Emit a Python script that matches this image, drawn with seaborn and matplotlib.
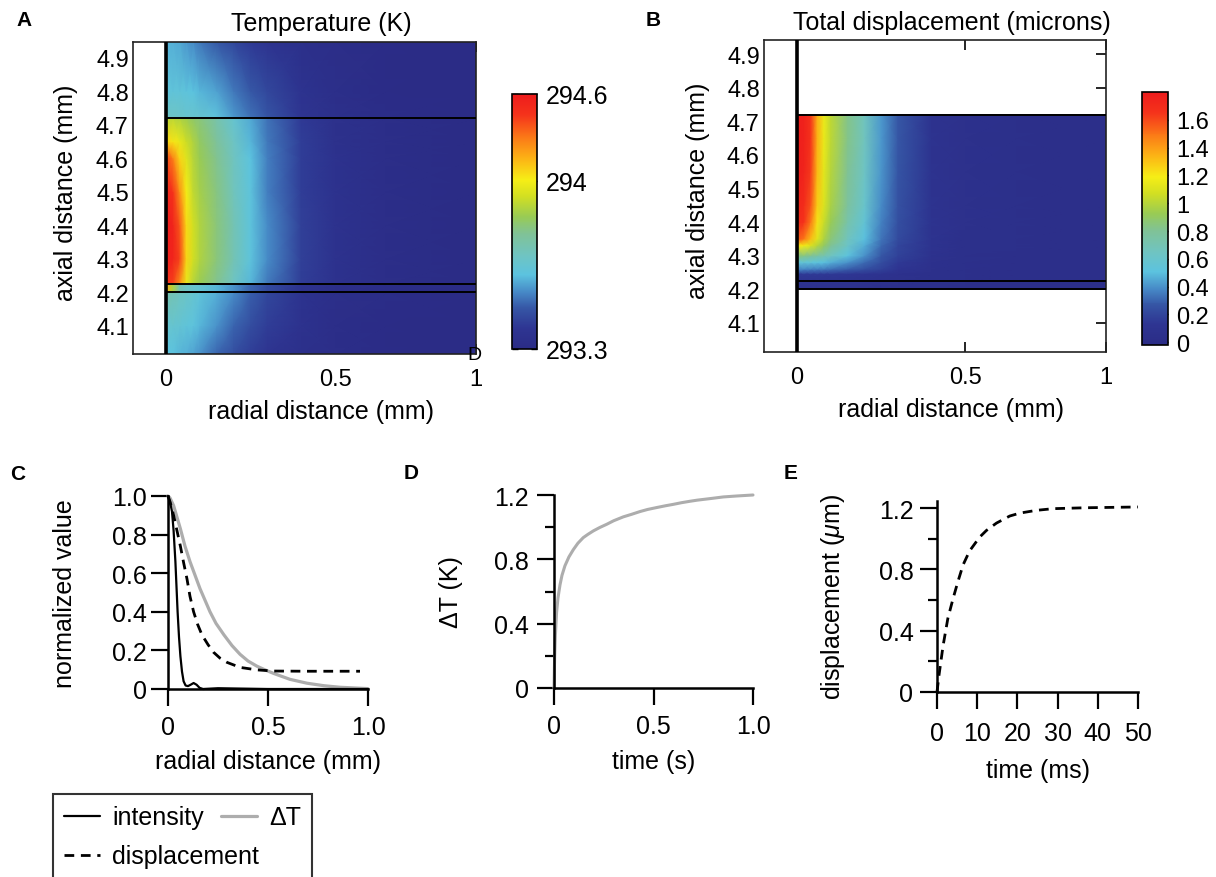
import numpy as np
import matplotlib
matplotlib.use("Agg")
import matplotlib.pyplot as plt
from matplotlib.colors import LinearSegmentedColormap
from matplotlib.lines import Line2D
import seaborn as sns

sns.set_style("ticks")
plt.rcParams['font.family'] = ['Liberation Sans', 'DejaVu Sans']
plt.rcParams['mathtext.fontset'] = 'custom'
plt.rcParams['mathtext.rm'] = 'Liberation Sans'
plt.rcParams['mathtext.it'] = 'Liberation Sans:italic'
for key in ['text.color', 'axes.labelcolor', 'xtick.color', 'ytick.color', 'axes.edgecolor']:
    plt.rcParams[key] = 'black'

# ---------------- data ----------------
# Panel A: temperature field (K), rows = axial position (mm), columns = radial position (mm)
temp_r = [0, 0.02, 0.04, 0.06, 0.08, 0.1, 0.15, 0.2, 0.25, 0.3, 0.4, 0.5, 0.65, 0.917]
temp_z = [4.015, 4.1, 4.198, 4.2, 4.223, 4.225, 4.3, 4.4, 4.5, 4.6, 4.65, 4.72, 4.722, 4.8, 4.947]
temp_K = [
    [293.68, 293.68, 293.66, 293.65, 293.63, 293.60, 293.53, 293.48, 293.43, 293.39, 293.35, 293.33, 293.31, 293.30],
    [293.73, 293.73, 293.72, 293.70, 293.69, 293.66, 293.60, 293.53, 293.48, 293.43, 293.37, 293.33, 293.31, 293.30],
    [293.82, 293.81, 293.78, 293.76, 293.73, 293.70, 293.65, 293.59, 293.52, 293.46, 293.38, 293.34, 293.32, 293.30],
    [294.28, 294.02, 293.82, 293.77, 293.74, 293.72, 293.66, 293.60, 293.53, 293.47, 293.38, 293.34, 293.32, 293.30],
    [294.28, 294.02, 293.82, 293.77, 293.74, 293.72, 293.66, 293.60, 293.53, 293.47, 293.38, 293.34, 293.32, 293.30],
    [294.50, 294.47, 294.34, 294.13, 294.03, 293.98, 293.89, 293.77, 293.66, 293.56, 293.43, 293.37, 293.33, 293.30],
    [294.57, 294.56, 294.47, 294.21, 294.08, 294.02, 293.92, 293.81, 293.69, 293.59, 293.44, 293.37, 293.33, 293.30],
    [294.59, 294.56, 294.44, 294.20, 294.08, 294.02, 293.92, 293.81, 293.69, 293.59, 293.44, 293.37, 293.33, 293.30],
    [294.55, 294.50, 294.34, 294.16, 294.05, 294.00, 293.91, 293.79, 293.69, 293.57, 293.43, 293.37, 293.33, 293.30],
    [294.47, 294.37, 294.21, 294.11, 294.03, 293.98, 293.89, 293.78, 293.68, 293.57, 293.43, 293.37, 293.33, 293.30],
    [294.21, 294.18, 294.13, 294.07, 294.02, 293.96, 293.87, 293.77, 293.66, 293.56, 293.43, 293.36, 293.33, 293.30],
    [294.05, 294.04, 294.02, 293.99, 293.95, 293.92, 293.83, 293.73, 293.64, 293.55, 293.42, 293.36, 293.33, 293.30],
    [293.77, 293.77, 293.76, 293.74, 293.74, 293.73, 293.69, 293.61, 293.55, 293.50, 293.40, 293.35, 293.32, 293.30],
    [293.70, 293.70, 293.70, 293.69, 293.68, 293.66, 293.63, 293.56, 293.51, 293.46, 293.38, 293.34, 293.31, 293.30],
    [293.66, 293.65, 293.64, 293.61, 293.59, 293.56, 293.51, 293.46, 293.42, 293.39, 293.35, 293.33, 293.31, 293.30],
]
temp_cbar_ticks = [293.3, 294.157, 294.6]
temp_cbar_labels = ['293.3', '294', '294.6']

# Panel B: total displacement field (microns)
disp_r = [0, 0.02, 0.04, 0.06, 0.08, 0.1, 0.15, 0.2, 0.25, 0.3, 0.4, 0.5, 0.65, 0.917]
disp_z = [4.2, 4.225, 4.245, 4.26, 4.28, 4.3, 4.33, 4.35, 4.4, 4.45, 4.55, 4.65, 4.72]
disp_um = [
    [0.08, 0.08, 0.08, 0.08, 0.08, 0.08, 0.07, 0.06, 0.05, 0.045, 0.04, 0.035, 0.03, 0.03],
    [0.10, 0.10, 0.10, 0.10, 0.10, 0.10, 0.09, 0.08, 0.07, 0.06, 0.045, 0.04, 0.03, 0.03],
    [0.15, 0.15, 0.15, 0.15, 0.14, 0.14, 0.13, 0.11, 0.09, 0.07, 0.05, 0.04, 0.03, 0.03],
    [0.38, 0.38, 0.37, 0.36, 0.35, 0.33, 0.29, 0.24, 0.18, 0.12, 0.06, 0.04, 0.03, 0.03],
    [0.55, 0.55, 0.54, 0.52, 0.50, 0.47, 0.40, 0.32, 0.23, 0.15, 0.07, 0.045, 0.035, 0.03],
    [0.85, 0.84, 0.80, 0.76, 0.71, 0.65, 0.52, 0.40, 0.27, 0.18, 0.08, 0.05, 0.035, 0.03],
    [1.22, 1.18, 1.10, 1.00, 0.90, 0.80, 0.62, 0.46, 0.31, 0.20, 0.09, 0.05, 0.04, 0.03],
    [1.58, 1.50, 1.32, 1.12, 0.98, 0.86, 0.66, 0.50, 0.34, 0.22, 0.09, 0.05, 0.04, 0.03],
    [1.70, 1.66, 1.50, 1.22, 1.05, 0.93, 0.73, 0.56, 0.37, 0.24, 0.10, 0.06, 0.04, 0.03],
    [1.74, 1.70, 1.58, 1.28, 1.10, 0.97, 0.77, 0.60, 0.39, 0.25, 0.10, 0.06, 0.04, 0.03],
    [1.78, 1.75, 1.64, 1.33, 1.13, 1.00, 0.80, 0.64, 0.41, 0.26, 0.10, 0.06, 0.04, 0.03],
    [1.78, 1.76, 1.66, 1.35, 1.15, 1.02, 0.82, 0.66, 0.42, 0.27, 0.10, 0.06, 0.04, 0.03],
    [1.78, 1.76, 1.66, 1.35, 1.15, 1.02, 0.82, 0.66, 0.42, 0.27, 0.10, 0.06, 0.04, 0.03],
]
disp_cbar_ticks = [0, 0.2, 0.4, 0.6, 0.8, 1.0, 1.2, 1.4, 1.6]
disp_cbar_labels = ['0', '0.2', '0.4', '0.6', '0.8', '1', '1.2', '1.4', '1.6']

layer_z = [4.2, 4.225, 4.72]
axial_ticks = [4.1, 4.2, 4.3, 4.4, 4.5, 4.6, 4.7, 4.8, 4.9]
axial_labels = ['4.1', '4.2', '4.3', '4.4', '4.5', '4.6', '4.7', '4.8', '4.9']
radial_ticks = [0, 0.5, 0.917]
radial_labels = ['0', '0.5', '1']

# Panel C: normalized radial profiles
int_r = [0, 0.01, 0.02, 0.028, 0.037, 0.048, 0.055, 0.062, 0.07, 0.078, 0.088, 0.1, 0.113, 0.128,
         0.143, 0.158, 0.175, 0.25, 0.5, 1.0]
int_v = [1.0, 0.97, 0.92, 0.82, 0.66, 0.40, 0.27, 0.17, 0.09, 0.04, 0.018, 0.015, 0.022, 0.031,
         0.022, 0.006, 0.0, 0.004, 0.0, 0.0]
dT_r = [0, 0.01, 0.028, 0.045, 0.062, 0.085, 0.11, 0.135, 0.16, 0.185, 0.21, 0.24, 0.28, 0.32,
        0.36, 0.4, 0.445, 0.49, 0.53, 0.61, 0.695, 0.78, 0.86, 1.0]
dT_v = [1.0, 0.99, 0.95, 0.89, 0.83, 0.74, 0.66, 0.59, 0.52, 0.46, 0.40, 0.34, 0.28, 0.225,
        0.18, 0.145, 0.118, 0.097, 0.08, 0.05, 0.03, 0.017, 0.009, 0.002]
dsp_r = [0, 0.01, 0.028, 0.045, 0.062, 0.078, 0.095, 0.11, 0.128, 0.148, 0.17, 0.2, 0.228, 0.26,
         0.295, 0.36, 0.445, 0.53, 0.7, 0.96]
dsp_v = [1.0, 0.97, 0.90, 0.82, 0.74, 0.655, 0.57, 0.48, 0.40, 0.335, 0.28, 0.23, 0.19, 0.16,
         0.138, 0.112, 0.099, 0.093, 0.092, 0.092]

# Panel D: temperature rise vs time
tD_s = [0, 0.003, 0.007, 0.013, 0.02, 0.03, 0.04, 0.055, 0.075, 0.097, 0.12, 0.147, 0.17, 0.198,
        0.23, 0.265, 0.3, 0.348, 0.39, 0.432, 0.47, 0.516, 0.56, 0.6, 0.64, 0.683, 0.72, 0.767,
        0.8, 0.851, 0.92, 1.0]
dT_K = [0, 0.18, 0.33, 0.47, 0.56, 0.64, 0.70, 0.76, 0.815, 0.86, 0.90, 0.935, 0.955, 0.977,
        0.998, 1.018, 1.04, 1.064, 1.08, 1.097, 1.11, 1.122, 1.133, 1.142, 1.152, 1.161, 1.168,
        1.175, 1.18, 1.188, 1.194, 1.2]

# Panel E: displacement vs time
tE_ms = [0, 0.5, 1.5, 2.7, 4.0, 5.2, 6.5, 8.1, 10.6, 12.3, 14.8, 18.1, 20.6, 24.7, 28.9, 37.1, 50]
disp_t = [0, 0.11, 0.30, 0.48, 0.61, 0.72, 0.83, 0.92, 1.01, 1.054, 1.102, 1.148, 1.167, 1.185,
          1.196, 1.202, 1.207]

# ---------------- style ----------------
cmap = LinearSegmentedColormap.from_list("softjet", [
    (0.00, "#2b2c86"), (0.08, "#2e3592"), (0.16, "#3657a6"), (0.22, "#4688c6"),
    (0.29, "#5cc3df"), (0.36, "#6ec4c4"), (0.45, "#80c296"), (0.52, "#98cb55"),
    (0.60, "#d2df22"), (0.665, "#f6ee16"), (0.75, "#fcb215"), (0.83, "#fb7a17"),
    (0.92, "#f5331b"), (1.00, "#ee1c1c")])

W, H = 1216, 878
fig = plt.figure(figsize=(W / 100, H / 100), dpi=100)


def rect(l, r, t, b):
    return [l / W, 1 - b / H, (r - l) / W, (b - t) / H]


def heat_axes(ax, ylim, ylab_x, title, title_y):
    ax.set_xlim(-0.098, 0.917)
    ax.set_ylim(*ylim)
    ax.set_xticks(radial_ticks)
    ax.set_xticklabels(radial_labels)
    ax.set_yticks(axial_ticks)
    ax.set_yticklabels(axial_labels)
    ax.tick_params(axis='both', direction='in', length=7, width=1.2, labelsize=17,
                   top=True, right=True, left=False)
    ax.tick_params(axis='x', pad=10)
    ax.tick_params(axis='y', pad=3)
    for s in ax.spines.values():
        s.set_linewidth(1.2)
        s.set_color('#222222')
    ax.set_xlabel('radial distance (mm)', fontsize=18)
    ax.set_ylabel('axial distance (mm)', fontsize=18)
    ax.xaxis.set_label_coords(0.548, -0.144)
    ax.yaxis.set_label_coords(ylab_x, 0.52)
    ax.text(0.548, title_y, title, transform=ax.transAxes, ha='center', va='bottom', fontsize=18)


# Panel A
axA = fig.add_axes(rect(133, 476, 43, 355))
meshA = axA.pcolormesh(temp_r, temp_z, np.array(temp_K), shading='gouraud', cmap=cmap,
                       vmin=293.3, vmax=294.6, rasterized=True)
axA.axvline(0, color='k', lw=2.6, zorder=5)
axA.hlines(layer_z, 0, 0.917, color='k', lw=1.4, zorder=5)
heat_axes(axA, (4.0155, 4.9466), -0.160, 'Temperature (K)', 1.022)
caxA = fig.add_axes(rect(512, 537, 95, 350))
cbA = fig.colorbar(meshA, cax=caxA, ticks=temp_cbar_ticks)
cbA.ax.set_yticklabels(temp_cbar_labels)
cbA.ax.tick_params(direction='in', length=4, width=1, left=True, right=True, labelsize=18, pad=6)
cbA.outline.set_linewidth(1.2)

# Panel B
axB = fig.add_axes(rect(764, 1106, 41, 353))
meshB = axB.pcolormesh(disp_r, disp_z, np.array(disp_um), shading='gouraud', cmap=cmap,
                       vmin=-0.02, vmax=1.80, rasterized=True)
axB.axvline(0, color='k', lw=2.6, zorder=5)
axB.hlines(layer_z, 0, 0.917, color='k', lw=1.4, zorder=5)
heat_axes(axB, (4.013, 4.942), -0.158, 'Total displacement (microns)', 1.019)
caxB = fig.add_axes(rect(1142, 1168, 93, 346))
cbB = fig.colorbar(meshB, cax=caxB, ticks=disp_cbar_ticks)
cbB.ax.set_yticklabels(disp_cbar_labels)
cbB.ax.tick_params(direction='in', length=4, width=1, left=True, right=True, labelsize=17, pad=6)
cbB.outline.set_linewidth(1.2)

# stray glyph visible near panel A's right tick in the reference
fig.text(474 / W, 1 - 356 / H, 'D', ha='center', va='center', fontsize=14)


def line_axes(ax):
    for side in ['top', 'right']:
        ax.spines[side].set_visible(False)
    for side in ['left', 'bottom']:
        ax.spines[side].set_linewidth(1.8)
        ax.spines[side].set_color('black')
    ax.tick_params(which='major', direction='out', length=12, width=1.6, labelsize=18, colors='black')
    ax.tick_params(which='minor', direction='out', length=6.5, width=1.6, colors='black')


GRAY = '#adadad'

# Panel C
axC = fig.add_axes(rect(168, 368, 497, 690))
sns.lineplot(x=dT_r, y=dT_v, ax=axC, color=GRAY, lw=2.3, clip_on=False)
sns.lineplot(x=int_r, y=int_v, ax=axC, color='black', lw=1.6, clip_on=False)
sns.lineplot(x=dsp_r, y=dsp_v, ax=axC, color='black', lw=2.0, clip_on=False)
axC.lines[-1].set_dashes([3.5, 2.4])
axC.set_xlim(0, 1.0)
axC.set_ylim(0, 1.0)
axC.set_xticks([0, 0.5, 1.0])
axC.set_xticklabels(['0', '0.5', '1.0'])
axC.set_yticks([0, 0.2, 0.4, 0.6, 0.8, 1.0])
axC.set_yticklabels(['0', '0.2', '0.4', '0.6', '0.8', '1.0'])
line_axes(axC)
axC.tick_params(axis='x', pad=7)
axC.tick_params(axis='y', pad=3)
axC.set_xlabel('radial distance (mm)', fontsize=18)
axC.set_ylabel('normalized value', fontsize=18)
axC.xaxis.set_label_coords(0.5, -0.311)
axC.yaxis.set_label_coords(-0.455, 0.5)

# Panel D
axD = fig.add_axes(rect(554, 753, 496, 689))
sns.lineplot(x=tD_s, y=dT_K, ax=axD, color=GRAY, lw=2.2, clip_on=False)
axD.set_xlim(0, 1.0)
axD.set_ylim(0, 1.2)
axD.set_xticks([0, 0.5, 1.0])
axD.set_xticklabels(['0', '0.5', '1.0'])
axD.set_yticks([0, 0.4, 0.8, 1.2])
axD.set_yticklabels(['0', '0.4', '0.8', '1.2'])
axD.set_yticks([0.2, 0.6, 1.0], minor=True)
line_axes(axD)
axD.tick_params(axis='x', pad=7)
axD.tick_params(axis='y', pad=6)
axD.set_xlabel('time (s)', fontsize=18)
axD.set_ylabel('ΔT (K)', fontsize=18)
axD.xaxis.set_label_coords(0.5, -0.316)
axD.yaxis.set_label_coords(-0.457, 0.5)

# Panel E
axE = fig.add_axes(rect(937, 1138, 502, 693))
sns.lineplot(x=tE_ms, y=disp_t, ax=axE, color='black', lw=2.0, clip_on=False)
axE.lines[-1].set_dashes([3.5, 2.4])
axE.set_xlim(0, 50)
axE.set_ylim(0, 1.246)
axE.set_xticks([0, 10, 20, 30, 40, 50])
axE.set_xticklabels(['0', '10', '20', '30', '40', '50'])
axE.set_yticks([0, 0.4, 0.8, 1.2])
axE.set_yticklabels(['0', '0.4', '0.8', '1.2'])
axE.set_yticks([0.2, 0.6, 1.0], minor=True)
line_axes(axE)
axE.tick_params(axis='x', pad=9)
axE.tick_params(axis='y', pad=5)
axE.set_xlabel('time (ms)', fontsize=18)
axE.set_ylabel(r'displacement ($\mu$m)', fontsize=18)
axE.xaxis.set_label_coords(0.5, -0.346)
axE.yaxis.set_label_coords(-0.448, 0.5)

# Legend (below panel C)
handles = [Line2D([], [], color='black', lw=1.6),
           Line2D([], [], color='black', lw=2.0, dashes=[3.5, 2.4]),
           Line2D([], [], color=GRAY, lw=2.3)]
labels = ['intensity', 'displacement', 'ΔT']
leg = fig.legend(handles, labels, loc='upper left', bbox_to_anchor=(53 / W, 1 - 795 / H),
                 ncol=2, fontsize=18, frameon=True, fancybox=False, borderaxespad=0,
                 handlelength=1.45, handletextpad=0.48, columnspacing=-1.55,
                 borderpad=0.45, labelspacing=0.6)
leg.get_frame().set_edgecolor('black')
leg.get_frame().set_linewidth(1.5)

# Panel letters
for letter, (px, py) in {'A': (24, 21), 'B': (653, 20), 'C': (18, 475),
                         'D': (411, 474), 'E': (791, 474)}.items():
    fig.text(px / W, 1 - py / H, letter, ha='center', va='center', fontsize=15, fontweight='bold')

fig.savefig('out.png', dpi=100)
